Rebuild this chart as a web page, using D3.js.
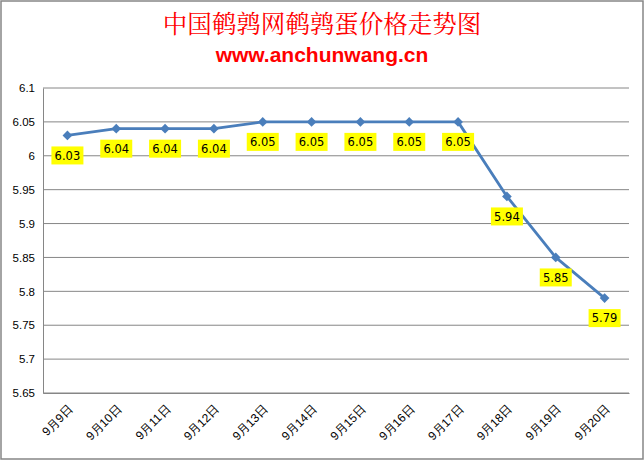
<!DOCTYPE html>
<html>
<head>
<meta charset="utf-8">
<script src="https://cdn.jsdelivr.net/npm/d3@7"></script>
<style>
  body { margin: 0; background: #fff; }
  svg { display: block; font-family: "DejaVu Sans", "Noto Sans CJK SC", sans-serif; }
</style>
</head>
<body>
<svg width="644" height="460"></svg>
<script>
// categories and values
const dates = ["9月9日", "9月10日", "9月11日", "9月12日", "9月13日", "9月14日",
               "9月15日", "9月16日", "9月17日", "9月18日", "9月19日", "9月20日"];
const prices = [6.03, 6.04, 6.04, 6.04, 6.05, 6.05, 6.05, 6.05, 6.05, 5.94, 5.85, 5.79];
const yTicks = [5.65, 5.7, 5.75, 5.8, 5.85, 5.9, 5.95, 6, 6.05, 6.1];

const svg = d3.select("svg");
const margin = {left: 43, right: 15, top: 88, bottom: 67};
const W = 644, H = 460;

svg.append("rect")
  .attr("x", 1).attr("y", 1).attr("width", W - 2).attr("height", H - 2)
  .attr("fill", "#fff").attr("stroke", "#868686").attr("stroke-width", 1.5);

svg.append("text")
  .attr("x", W / 2).attr("y", 33)
  .attr("text-anchor", "middle")
  .attr("fill", "#ff0000")
  .style("font-family", "'Noto Serif CJK SC', 'Noto Sans CJK SC', serif")
  .style("font-size", "24.5px")
  .text("中国鹌鹑网鹌鹑蛋价格走势图");

svg.append("text")
  .attr("x", W / 2).attr("y", 62)
  .attr("text-anchor", "middle")
  .attr("fill", "#ff0000")
  .style("font-family", "'Liberation Sans', Arial, sans-serif")
  .style("font-weight", "bold")
  .style("font-size", "21px")
  .text("www.anchunwang.cn");

const x = d3.scaleBand().domain(dates).range([margin.left, W - margin.right]);
const y = d3.scaleLinear().domain([5.65, 6.1]).range([H - margin.bottom, margin.top]);

// gridlines
svg.append("g")
  .selectAll("line")
  .data(yTicks)
  .join("line")
  .attr("x1", margin.left).attr("x2", W - margin.right)
  .attr("y1", d => y(d)).attr("y2", d => y(d))
  .attr("stroke", "#868686").attr("stroke-width", 1);

// y axis
const yAxis = svg.append("g")
  .attr("transform", `translate(${margin.left},0)`)
  .call(d3.axisLeft(y).tickValues(yTicks).tickSize(0).tickPadding(8).tickFormat(d => String(+d.toFixed(2))));
yAxis.select(".domain").attr("stroke", "#868686");
yAxis.selectAll("text").style("font-size", "11.5px").attr("fill", "#000");

// x axis
const xAxis = svg.append("g")
  .attr("transform", `translate(0,${H - margin.bottom})`)
  .call(d3.axisBottom(x).tickSize(0));
xAxis.select(".domain").attr("stroke", "#868686");
xAxis.selectAll("text")
  .style("font-size", "12px")
  .attr("fill", "#000")
  .attr("text-anchor", "end")
  .attr("y", 0)
  .attr("dy", "0.35em")
  .attr("transform", "translate(3,14) rotate(-45)");

const cx = d => x(d) + x.bandwidth() / 2;
const pts = dates.map((d, i) => [cx(d), y(prices[i])]);

svg.append("path")
  .datum(pts)
  .attr("fill", "none")
  .attr("stroke", "#4a7ebb")
  .attr("stroke-width", 2.8)
  .attr("stroke-linejoin", "round")
  .attr("d", d3.line());

svg.append("g")
  .selectAll("path")
  .data(pts)
  .join("path")
  .attr("transform", d => `translate(${d[0]},${d[1]})`)
  .attr("d", d3.symbol(d3.symbolDiamond2, 60))
  .attr("fill", "#4a7ebb");

// data labels
const lab = svg.append("g").selectAll("g")
  .data(pts)
  .join("g")
  .attr("transform", d => `translate(${d[0]},${d[1] + 20})`);
lab.append("rect")
  .attr("x", -16).attr("y", -9).attr("width", 32).attr("height", 18)
  .attr("fill", "#ffff00");
lab.append("text")
  .attr("text-anchor", "middle")
  .attr("dy", "0.36em")
  .style("font-size", "11.5px")
  .text((d, i) => prices[i].toFixed(2));
</script>
</body>
</html>
